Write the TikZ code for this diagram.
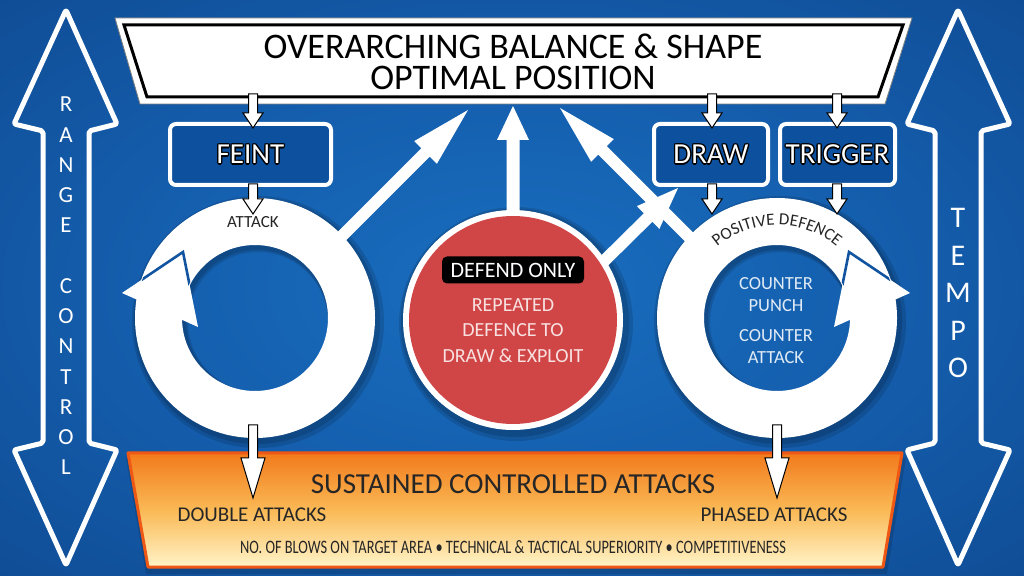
\documentclass[tikz,border=0pt]{standalone}
\usepackage{fontspec}
\usepackage{graphicx}
\setmainfont{Carlito}
\usetikzlibrary{calc,decorations.text}
\definecolor{bgmid}{RGB}{18,84,160}
\definecolor{boxblue}{RGB}{12,80,158}
\definecolor{redc}{RGB}{208,70,70}
\definecolor{otop}{RGB}{242,122,28}
\definecolor{omid}{RGB}{250,185,85}
\definecolor{obot}{RGB}{255,244,200}
\definecolor{oborder}{RGB}{238,88,20}
\definecolor{pinkw}{RGB}{248,225,225}
\definecolor{lightb}{RGB}{225,235,245}
\pgfdeclareradialshading{bgshade}{\pgfpoint{0bp}{0bp}}{rgb(0bp)=(0.10,0.43,0.75); rgb(18bp)=(0.08,0.37,0.68); rgb(72bp)=(0.03,0.16,0.40)}
\newcommand\otl[1]{{\setbox0=\hbox{#1}%
\rlap{\color{black}\raise1pt\hbox{\kern1pt\copy0}}%
\rlap{\color{black}\raise1pt\hbox{\kern-1pt\copy0}}%
\rlap{\color{black}\raise-1pt\hbox{\kern1pt\copy0}}%
\rlap{\color{black}\raise-1pt\hbox{\kern-1pt\copy0}}%
\rlap{\color{black}\hbox{\kern1.3pt\copy0}}%
\rlap{\color{black}\hbox{\kern-1.3pt\copy0}}%
\rlap{\color{black}\raise1.3pt\copy0}%
\rlap{\color{black}\raise-1.3pt\copy0}%
\textcolor{white}{\box0}}}
% #1 style, #2 start, #3 end, #4 shaft half width, #5 head half width, #6 head length
\newcommand\fatarrow[6]{%
  \coordinate (FAs) at #2; \coordinate (FAe) at #3;
  \coordinate (FAh) at ($(FAe)!#6!(FAs)$);
  \path[#1] ($(FAs)!#4!90:(FAe)$) -- ($(FAh)!#4!-90:(FAs)$) -- ($(FAh)!#5!-90:(FAs)$) -- (FAe)
    -- ($(FAh)!#5!90:(FAs)$) -- ($(FAh)!#4!90:(FAs)$) -- ($(FAs)!#4!-90:(FAe)$) -- cycle;}
\tikzset{
  thinarrow/.style={fill=white, draw=black, line width=1pt, line join=miter},
  bigarrow/.style={fill=white},
  tagbox/.style={rectangle, rounded corners=6pt, draw=white, line width=4pt, fill=boxblue,
    minimum height=61pt, font=\fontsize{29}{29}\selectfont, inner sep=0pt},
  sidearrow/.style={draw=white, line width=5pt, line join=round, rounded corners=2pt},
  notch/.style={draw=bgmid, line width=2.6pt, line join=miter},
  softshadow/.style={fill=black, opacity=.13},
}
\begin{document}
\begin{tikzpicture}[x=1pt,y=1pt]
\shade[shading=bgshade] (0,0) rectangle (1024,575);
\useasboundingbox (0,0) rectangle (1024,575);

% side double arrows
\draw[sidearrow] (66,565) -- (117,451) -- (89,444) -- (89,132) -- (117,125) -- (66,10)
  -- (14,125) -- (43,132) -- (43,444) -- (14,451) -- cycle;
\draw[sidearrow] (958,565) -- (1010,451) -- (981,444) -- (981,132) -- (1010,125) -- (958,10)
  -- (907,125) -- (935,132) -- (935,444) -- (907,451) -- cycle;
\node[white, align=center, font=\fontsize{23}{30.25}\selectfont] (range) at (66,289)
  {R\\A\\N\\G\\E\\[30.25pt]C\\O\\N\\T\\R\\O\\L};
\node[white, align=center, font=\fontsize{30}{37.5}\selectfont] (tempo) at (958,282)
  {T\\E\\M\\P\\O};

% ring centres
\coordinate (lc) at (255,257);
\coordinate (rc) at (777,257);
\coordinate (cc) at (513,255);

% shadows
\fill[softshadow, even odd rule] ($(lc)+(3,-4)$) circle (126pt) ($(lc)+(3,-4)$) circle (70pt);
\fill[softshadow, even odd rule] ($(lc)+(2,-3)$) circle (123pt) ($(lc)+(2,-3)$) circle (71pt);
\fill[softshadow, even odd rule] ($(rc)+(3,-4)$) circle (126pt) ($(rc)+(3,-4)$) circle (70pt);
\fill[softshadow, even odd rule] ($(rc)+(2,-3)$) circle (123pt) ($(rc)+(2,-3)$) circle (71pt);
\fill[softshadow] ($(cc)+(3,-4)$) circle (117pt);
\fill[softshadow] ($(cc)+(2,-3)$) circle (114pt);
\fill[softshadow] (126,117) -- (906,117) -- (887,1) -- (146,1) -- cycle;

% big white arrows to the banner
\fatarrow{bigarrow}{(335,332)}{(468,465)}{6pt}{16pt}{60pt}
\fatarrow{bigarrow}{(513,355)}{(513,469)}{6.5pt}{16pt}{34pt}
\fatarrow{bigarrow}{(697,330)}{(560,467)}{6pt}{16pt}{60pt}
\fatarrow{bigarrow}{(595,305)}{(678,387)}{6pt}{16pt}{42pt}

% left ring
\fill[white, even odd rule] (lc) circle (120pt) (lc) circle (73pt);
\fill[white] (122,282) -- (183,323) -- (198,248) -- cycle;
\begin{scope}[even odd rule]
  \clip (lc) circle (119pt) (lc) circle (74pt);
  \draw[notch] (122,282) -- (183,323) -- (198,248);
\end{scope}
% right ring
\fill[white, even odd rule] (rc) circle (120pt) (rc) circle (73pt);
\fill[white] (910,282) -- (849,323) -- (834,248) -- cycle;
\begin{scope}[even odd rule]
  \clip (rc) circle (119pt) (rc) circle (74pt);
  \draw[notch] (910,282) -- (849,323) -- (834,248);
\end{scope}

% red circle
\fill[white] (cc) circle (110pt);
\fill[redc] (cc) circle (104pt);

% banner
\fill[white] (115,557) -- (912,557) -- (885,471) -- (140,471) -- cycle;
\draw[gray, line width=0.8pt] (115,557) -- (912,557) -- (885,471) -- (140,471) -- cycle;
\draw[black, line width=3pt, fill=white] (124,550) -- (903,550) -- (878,478) -- (147,478) -- cycle;
\node[align=center, font=\fontsize{36}{31}\selectfont] (banner) at (513,513)
  {OVERARCHING BALANCE \& SHAPE\\OPTIMAL POSITION};

% boxes
\node[tagbox, minimum width=161pt] (feint) at (250.5,420.5) {\otl{FEINT}};
\node[tagbox, minimum width=114pt] (drawbox) at (711,420.5) {\otl{DRAW}};
\node[tagbox, minimum width=115pt] (trigger) at (837.5,420.5) {\otl{TRIGGER}};

% thin arrows
\fatarrow{thinarrow}{(253,481)}{(253,447)}{4.5pt}{10pt}{15pt}
\fatarrow{thinarrow}{(712,481)}{(712,447)}{4.5pt}{10pt}{15pt}
\fatarrow{thinarrow}{(837,481)}{(837,447)}{4.5pt}{10pt}{15pt}
\fatarrow{thinarrow}{(253,391)}{(253,361)}{4.5pt}{10pt}{15pt}
\fatarrow{thinarrow}{(712,391)}{(712,361)}{4.5pt}{10pt}{15pt}
\fatarrow{thinarrow}{(837,391)}{(837,361)}{4.5pt}{10pt}{15pt}

% ring texts
\node[font=\fontsize{17}{17}\selectfont, text=black!85] (attack) at (253,353) {ATTACK};
\path[decorate, decoration={text along path, text={|\fontsize{17}{17}\selectfont|POSITIVE DEFENCE},
  text align=center, text color=black!85}]
  (rc) ++(135:93pt) arc[start angle=135, end angle=45, radius=93pt];
\node[text=lightb, align=center, font=\fontsize{18.5}{22}\selectfont] (cp) at (776,280) {COUNTER\\PUNCH};
\node[text=lightb, align=center, font=\fontsize{18.5}{22}\selectfont] (ca) at (776,228.5) {COUNTER\\ATTACK};

% centre texts
\node[fill=black, rounded corners=5pt, text=white, font=\fontsize{22}{22}\selectfont,
  minimum width=142pt, minimum height=27pt, inner sep=0pt] (defend) at (513,305) {DEFEND ONLY};
\node[text=pinkw, align=center, font=\fontsize{20}{25.5}\selectfont] (rep) at (513,244.5)
  {REPEATED\\DEFENCE TO\\DRAW \& EXPLOIT};

% bottom box
\shade[top color=otop, bottom color=obot, middle color=omid]
  (128,122) -- (902,122) -- (883,8) -- (148,8) -- cycle;
\draw[oborder, line width=3pt, line join=round] (128,122) -- (902,122) -- (883,8) -- (148,8) -- cycle;
\fatarrow{thinarrow}{(253,150)}{(253,77)}{4.5pt}{12pt}{40pt}
\fatarrow{thinarrow}{(777,150)}{(777,77)}{4.5pt}{12pt}{40pt}
\node[font=\fontsize{29}{29}\selectfont, text=black!85] (sca) at (513,91) {SUSTAINED CONTROLLED ATTACKS};
\node[font=\fontsize{21}{21}\selectfont, text=black!85] (dbl) at (252,60) {DOUBLE ATTACKS};
\node[font=\fontsize{21}{21}\selectfont, text=black!85] (phs) at (774,60) {PHASED ATTACKS};
\node[text=black!85] (nob) at (513,28) {\resizebox{546pt}{\height}{\fontsize{19}{19}\selectfont NO. OF BLOWS ON TARGET AREA • TECHNICAL \& TACTICAL SUPERIORITY • COMPETITIVENESS}};
\end{tikzpicture}
\end{document}
